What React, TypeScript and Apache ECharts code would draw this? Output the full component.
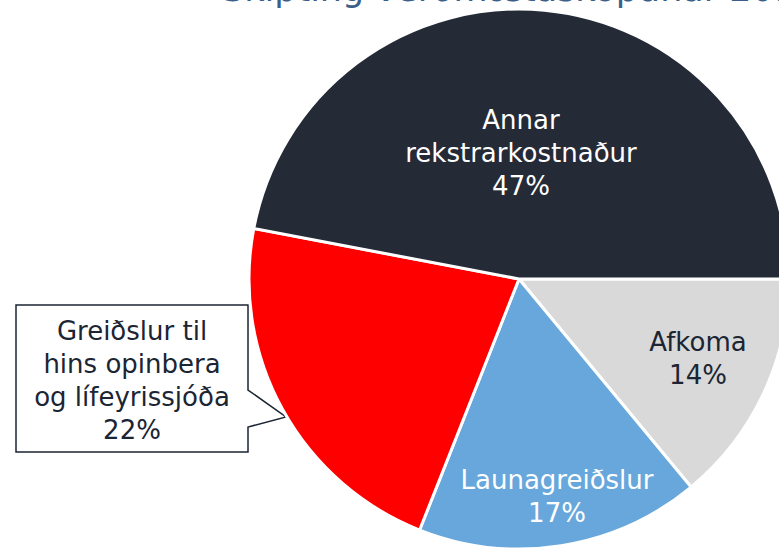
import React, { useEffect, useRef } from "react";
import * as echarts from "echarts";

const TITLE = "Skipting verðmætasköpunar 2018";
const CATEGORIES = [
  "Afkoma",
  "Launagreiðslur",
  "Greiðslur til\nhins opinbera\nog lífeyrissjóða",
  "Annar\nrekstrarkostnaður",
];
const VALUES = [14, 17, 22, 47];
const COLORS = ["#d9d9d9", "#67a7db", "#ff0000", "#242a36"];
const LABEL_COLORS = ["#1b2533", "#ffffff", "#1b2533", "#ffffff"];
const LABEL_POS: [number, number][] = [
  [698, 358],
  [557, 496],
  [132, 380],
  [521, 153],
];

export default function App() {
  const ref = useRef<HTMLDivElement>(null);
  useEffect(() => {
    document.body.style.margin = "0";
    const chart = echarts.init(ref.current!, undefined, { renderer: "svg" });
    const font = "'DejaVu Sans', Verdana, sans-serif";
    chart.setOption({
      animation: false,
      backgroundColor: "#ffffff",
      graphic: [
        {
          type: "text",
          left: 222,
          top: -29,
          style: {
            text: TITLE,
            font: `35px ${font}`,
            fill: "#3b5f8a",
          },
        },
        {
          type: "polygon",
          z: 0,
          shape: {
            points: [
              [16, 305],
              [248, 305],
              [248, 390],
              [286, 417],
              [248, 427],
              [248, 452],
              [16, 452],
            ],
          },
          style: { fill: "#ffffff", stroke: "#1b2533", lineWidth: 1.5 },
        },
      ],
      series: [
        {
          type: "pie",
          center: [519, 279],
          radius: 270,
          startAngle: 0,
          clockwise: true,
          z: 2,
          itemStyle: { borderColor: "#ffffff", borderWidth: 3 },
          label: {
            show: true,
            position: "inside",
            formatter: "{b}\n{c}%",
            fontFamily: font,
            fontSize: 26,
            lineHeight: 33,
            align: "center",
          },
          labelLine: { show: false },
          labelLayout: (params: any) => {
            const p = LABEL_POS[params.dataIndex];
            return { x: p[0], y: p[1], align: "center", verticalAlign: "middle" };
          },
          data: CATEGORIES.map((name, i) => ({
            name,
            value: VALUES[i],
            itemStyle: { color: COLORS[i] },
            label: { color: LABEL_COLORS[i], fontSize: 26, fontFamily: font },
          })),
        },
      ],
    });
    return () => chart.dispose();
  }, []);
  return <div ref={ref} style={{ width: 779, height: 549 }} />;
}
